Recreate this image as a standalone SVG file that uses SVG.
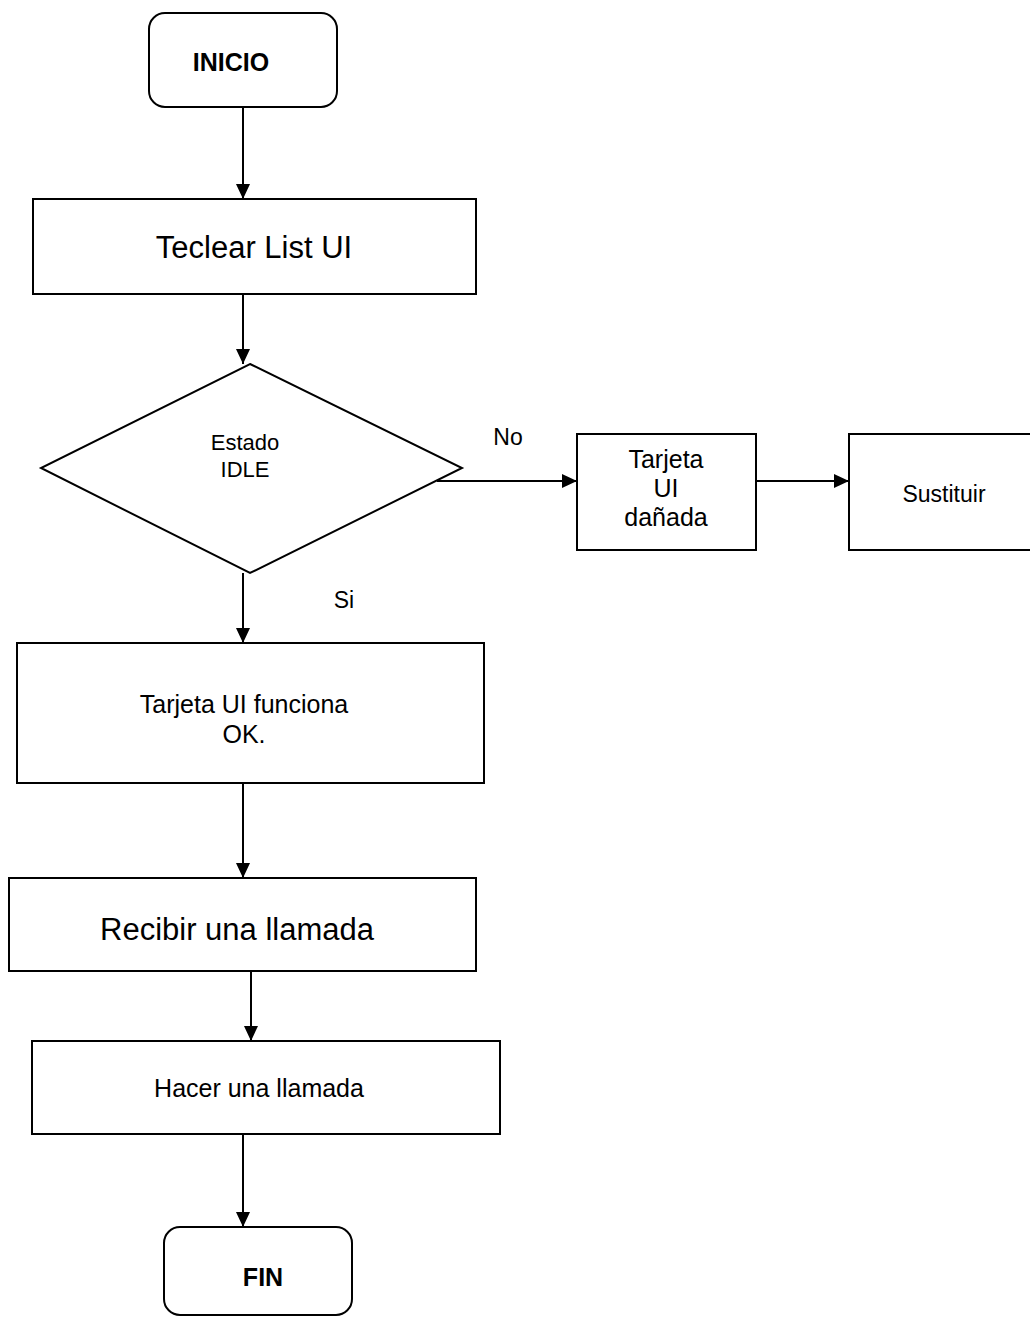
<svg xmlns="http://www.w3.org/2000/svg" width="1030" height="1317" viewBox="0 0 1030 1317">
  <style>
    .box { fill: #ffffff; stroke: #000000; stroke-width: 2; }
    .edge { fill: none; stroke: #000000; stroke-width: 2; marker-end: url(#arrow); }
    text { font-family: "Liberation Sans", Arial, sans-serif; fill: #000000; text-anchor: middle; }
    .bold { font-weight: bold; }
  </style>
  <defs>
    <marker id="arrow" viewBox="0 0 15 14" refX="15" refY="7" markerWidth="15" markerHeight="14" markerUnits="userSpaceOnUse" orient="auto">
      <path d="M0,0 L15,7 L0,14 Z" fill="#000000"/>
    </marker>
  </defs>
  <rect width="1030" height="1317" fill="#ffffff"/>

  <g id="connectors">
    <line class="edge" x1="243" y1="107" x2="243" y2="199"/>
    <line class="edge" x1="243" y1="294" x2="243" y2="364"/>
    <line class="edge" x1="437" y1="481" x2="577" y2="481"/>
    <line class="edge" x1="756" y1="481" x2="849" y2="481"/>
    <line class="edge" x1="243" y1="573" x2="243" y2="643"/>
    <line class="edge" x1="243" y1="783" x2="243" y2="878"/>
    <line class="edge" x1="251" y1="971" x2="251" y2="1041"/>
    <line class="edge" x1="243" y1="1134" x2="243" y2="1227"/>
    <text x="508" y="445" font-size="23">No</text>
    <text x="344" y="608" font-size="23">Si</text>
  </g>

  <g id="inicio">
    <rect class="box" x="149" y="13" width="188" height="94" rx="16" ry="16"/>
    <text class="bold" x="231" y="71" font-size="25">INICIO</text>
  </g>

  <g id="teclear">
    <rect class="box" x="33" y="199" width="443" height="95"/>
    <text x="254" y="258" font-size="31">Teclear List UI</text>
  </g>

  <g id="estado-idle">
    <polygon class="box" points="250,364 462,468 250,573 41,468"/>
    <text x="245" y="450" font-size="22">Estado</text>
    <text x="245" y="477" font-size="22">IDLE</text>
  </g>

  <g id="tarjeta-danada">
    <rect class="box" x="577" y="434" width="179" height="116"/>
    <text x="666" y="468" font-size="25">Tarjeta</text>
    <text x="666" y="497" font-size="25">UI</text>
    <text x="666" y="526" font-size="25">dañada</text>
  </g>

  <g id="sustituir">
    <rect class="box" x="849" y="434" width="200" height="116"/>
    <text x="944" y="502" font-size="23">Sustituir</text>
  </g>

  <g id="tarjeta-ok">
    <rect class="box" x="17" y="643" width="467" height="140"/>
    <text x="244" y="713" font-size="25">Tarjeta UI funciona</text>
    <text x="244" y="743" font-size="25">OK.</text>
  </g>

  <g id="recibir">
    <rect class="box" x="9" y="878" width="467" height="93"/>
    <text x="237" y="940" font-size="31">Recibir una llamada</text>
  </g>

  <g id="hacer">
    <rect class="box" x="32" y="1041" width="468" height="93"/>
    <text x="259" y="1097" font-size="25">Hacer una llamada</text>
  </g>

  <g id="fin">
    <rect class="box" x="164" y="1227" width="188" height="88" rx="16" ry="16"/>
    <text class="bold" x="263" y="1286" font-size="25">FIN</text>
  </g>
</svg>
